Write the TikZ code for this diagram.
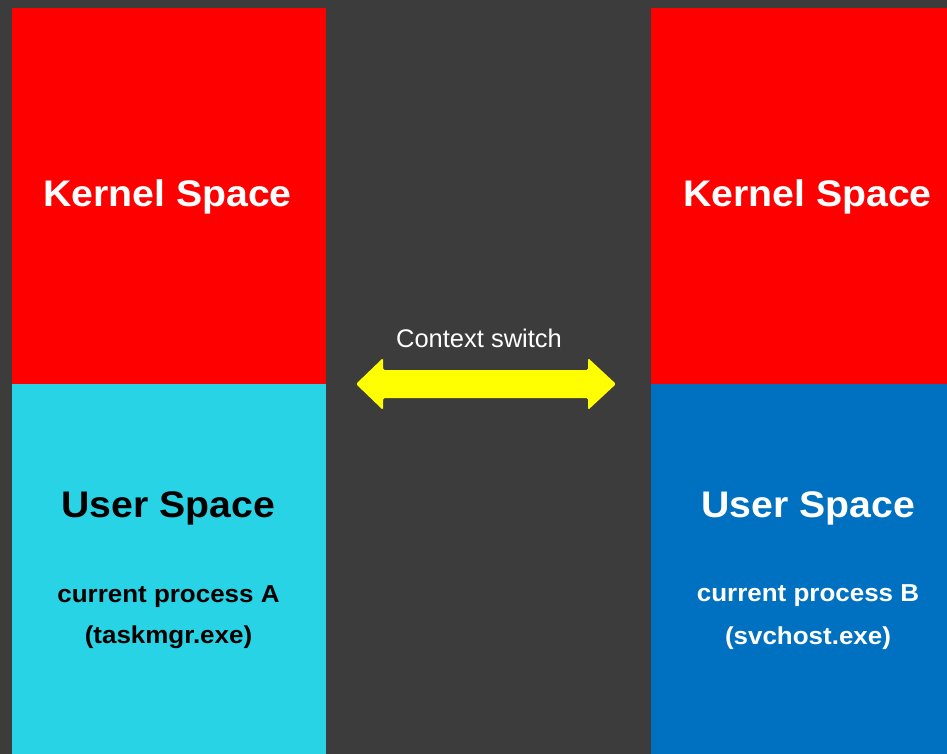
\documentclass[tikz,border=0pt]{standalone}
\usepackage{fontspec}
\setmainfont{Liberation Sans}
\newfontfamily\wide{Liberation Sans}[FakeStretch=1.06]
\definecolor{bg}{HTML}{3C3C3C}
\definecolor{kred}{HTML}{FF0000}
\definecolor{ucyan}{HTML}{29D3E6}
\definecolor{ublue}{HTML}{0070C0}
\definecolor{ayellow}{HTML}{FFFF00}
\tikzset{
  block/.style={inner sep=0pt, outer sep=0pt, draw=none},
  title/.style={anchor=base, inner sep=0pt, font=\wide\bfseries\fontsize{37}{40}\selectfont},
  sub/.style={anchor=base, inner sep=0pt, font=\wide\bfseries\fontsize{24.5}{28}\selectfont},
}
\begin{document}
\begin{tikzpicture}[x=1pt,y=-1pt]
\fill[bg] (0,0) rectangle (947,754);
\useasboundingbox (0,0) rectangle (947,754);
% left column
\fill[kred] (12,8) rectangle (326,384.3) coordinate (lk);
\fill[ucyan] (12,384.3) rectangle (326,754);
% right column
\fill[kred] (651,8) rectangle (947,384.3);
\fill[ublue] (651,384.3) rectangle (947,754);
% texts
\node[title, text=white] (k1) at (167.5,207) {Kernel Space};
\node[title, text=white] (k2) at (807.5,207) {Kernel Space};
\node[title, text=black] (u1) at (168.5,517) {User Space};
\node[title, text=white] (u2) at (808.5,517) {User Space};
\node[sub, text=black] (p1) at (168.5,602) {current process A};
\node[sub, text=black] (e1) at (168.5,643) {(taskmgr.exe)};
\node[sub, text=white] (p2) at (808,601) {current process B};
\node[sub, text=white] (e2) at (808,644) {(svchost.exe)};
\node[anchor=base, inner sep=0pt, text=white, font=\fontsize{25.5}{28}\selectfont] (cs) at (479,347) {Context switch};
% double arrow
\fill[ayellow, rounded corners=1.5pt] (356,384) -- (383,358) -- (383,370) -- (588,370) -- (588,358)
  -- (616,384) -- (588,410) -- (588,398) -- (383,398) -- (383,410) -- cycle;
\end{tikzpicture}
\end{document}
